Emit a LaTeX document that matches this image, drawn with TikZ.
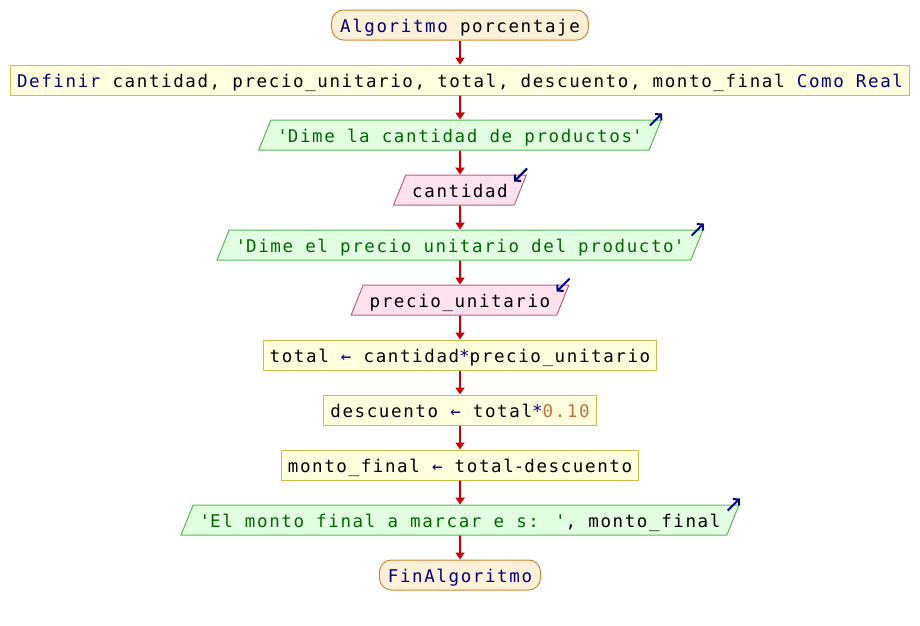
\documentclass[tikz,border=0pt]{standalone}
\usepackage{fontspec}
\newfontfamily\psfont{DejaVu Sans Mono}[LetterSpace=9.2]
\usetikzlibrary{shapes.geometric,arrows.meta}
\definecolor{kw}{HTML}{000080}
\definecolor{str}{HTML}{006A00}
\definecolor{num}{HTML}{C07040}
\definecolor{flowred}{HTML}{CC0000}
\definecolor{termfill}{HTML}{FFF0D8}
\definecolor{termdraw}{HTML}{CC8833}
\definecolor{procfill}{HTML}{FFFFDD}
\definecolor{procdraw}{HTML}{C8C048}
\definecolor{outfill}{HTML}{E2FFE2}
\definecolor{outdraw}{HTML}{55BB55}
\definecolor{infill}{HTML}{FFE2EE}
\definecolor{indraw}{HTML}{C0607F}
\tikzset{
  box/.style={draw, line width=1pt, text height=15pt, text depth=1pt,
    inner ysep=7pt, inner xsep=6.5pt, font={\fontsize{17.5}{20}\psfont}},
  term/.style={box, fill=termfill, draw=termdraw, rounded corners=12pt, inner xsep=8.5pt},
  proc/.style={box, fill=procfill, draw=procdraw},
  slanted/.style={box, trapezium, trapezium left angle=68, trapezium right angle=112},
  outbox/.style={slanted, fill=outfill, draw=outdraw, text=str},
  inbox/.style={slanted, fill=infill, draw=indraw},
  flow/.style={draw=flowred, line width=2pt, -{Triangle[width=9pt,length=7pt]}},
  ioarrow/.style={draw=kw, line width=2pt, -{Straight Barb[length=4pt,width=9pt]}}
}
\begin{document}
\begin{tikzpicture}[x=1pt,y=1pt]
  \useasboundingbox (0,0) rectangle (920,-625);
  \node[term] (start) at (460,-25) {{\color{kw}Algoritmo} porcentaje};
  \node[proc] (def) at (460,-80) {{\color{kw}Definir} cantidad, precio\_unitario, total, descuento, monto\_final {\color{kw}Como Real}};
  \node[outbox] (o1) at (460,-135) {\textquotesingle Dime la cantidad de productos\textquotesingle};
  \node[inbox] (i1) at (460,-190) {cantidad};
  \node[outbox] (o2) at (460,-245) {\textquotesingle Dime el precio unitario del producto\textquotesingle};
  \node[inbox] (i2) at (460,-300) {precio\_unitario};
  \node[proc] (a1) at (460,-355) {total {\color{kw}←} cantidad{\color{kw}*}precio\_unitario};
  \node[proc] (a2) at (460,-410) {descuento {\color{kw}←} total{\color{kw}*}{\color{num}0.10}};
  \node[proc] (a3) at (460,-465) {monto\_final {\color{kw}←} total{\color{kw}-}descuento};
  \node[outbox, text=black] (o3) at (460,-520) {{\color{str}\textquotesingle El monto final a marcar e s: \textquotesingle}, monto\_final};
  \node[term] (fin) at (460,-575) {{\color{kw}FinAlgoritmo}};
  % connectors
  \foreach \a/\b in {start/def, def/o1, o1/i1, i1/o2, o2/i2, i2/a1, a1/a2, a2/a3, a3/o3, o3/fin}
    \draw[flow] (\a.south) -- (\b.north);
  % read / write marks
  \foreach \o in {o1, o2, o3}
    \draw[ioarrow] ([shift={(-12,-6)}]\o.top right corner) -- ([shift={(0,6)}]\o.top right corner);
  \foreach \i in {i1, i2}
    \draw[ioarrow] ([shift={(0,6)}]\i.top right corner) -- ([shift={(-13,-7)}]\i.top right corner);
\end{tikzpicture}
\end{document}
